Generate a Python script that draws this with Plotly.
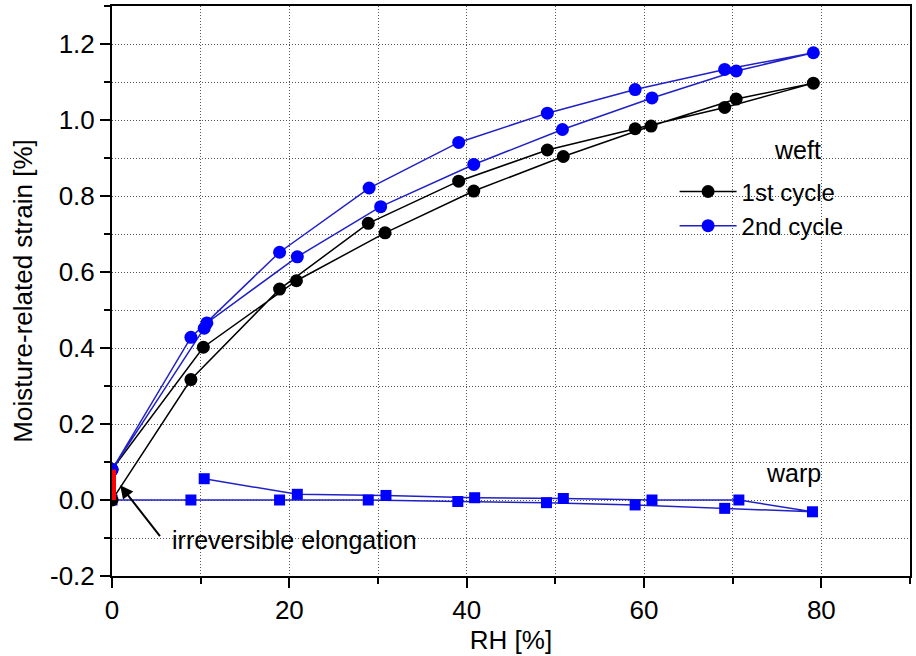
import plotly.graph_objects as go

# ---- data ----
weft1_rh = [0, 8.9, 18.9, 28.9, 39.1, 49.1, 59.0, 69.1, 79.1, 70.4, 60.8, 50.9, 40.8, 30.8, 20.8, 10.3, 0]
weft1_strain = [0, 0.317, 0.555, 0.728, 0.839, 0.921, 0.977, 1.033, 1.097, 1.055, 0.984, 0.904, 0.813, 0.703, 0.577, 0.402, 0.08]

weft2_rh = [0, 8.9, 18.9, 29.0, 39.1, 49.1, 59.0, 69.1, 79.1, 70.4, 60.9, 50.8, 40.8, 30.3, 20.9, 10.7, 10.4, 0]
weft2_strain = [0.08, 0.428, 0.652, 0.821, 0.941, 1.018, 1.080, 1.133, 1.177, 1.129, 1.058, 0.975, 0.883, 0.772, 0.640, 0.466, 0.452, 0.08]

warp_rh = [0, 8.9, 18.9, 28.9, 39.0, 49.0, 59.0, 69.1, 79.0, 70.7, 60.9, 50.9, 40.9, 30.9, 20.9, 10.4]
warp_strain = [0, 0, 0, 0, -0.004, -0.007, -0.013, -0.022, -0.031, 0.0, 0.0, 0.004, 0.006, 0.012, 0.015, 0.056]

irrev_rh = [0, 0]
irrev_strain = [0, 0.08]

x_range = [0, 90]
y_range = [-0.2, 1.3]
y_tickvals = [-0.2, 0.0, 0.2, 0.4, 0.6, 0.8, 1.0, 1.2]
y_ticktext = ["-0.2", "0.0", "0.2", "0.4", "0.6", "0.8", "1.0", "1.2"]
x_tickvals = [0, 20, 40, 60, 80]
x_ticktext = ["0", "20", "40", "60", "80"]

FONT = "Liberation Sans, Arial, sans-serif"
BLUE = "#0000ff"
BLUE_LINE = "#2020c8"
GRID = "#555555"

fig = go.Figure()

fig.add_trace(go.Scatter(
    x=warp_rh, y=warp_strain, mode="lines+markers", showlegend=False,
    line=dict(color=BLUE_LINE, width=1.5),
    marker=dict(symbol="square", size=11, color=BLUE),
))
fig.add_trace(go.Scatter(
    x=weft1_rh, y=weft1_strain, mode="lines+markers", name="1st cycle",
    line=dict(color="black", width=1.5),
    marker=dict(symbol="circle", size=13, color="black"),
))
fig.add_trace(go.Scatter(
    x=weft2_rh, y=weft2_strain, mode="lines+markers", name="2nd cycle",
    line=dict(color=BLUE_LINE, width=1.5),
    marker=dict(symbol="circle", size=13, color=BLUE),
))
fig.add_trace(go.Scatter(
    x=irrev_rh, y=irrev_strain, mode="lines", showlegend=False,
    line=dict(color="red", width=8),
))

axis_common = dict(
    showline=True, linecolor="black", linewidth=2, mirror=True,
    ticks="outside", ticklen=10, tickwidth=2, tickcolor="black",
    showgrid=True, gridcolor=GRID, gridwidth=1, griddash="1px,2px",
    zeroline=False,
    tickfont=dict(family=FONT, size=26, color="black"),
)

fig.update_xaxes(
    range=x_range, tickmode="array", tickvals=x_tickvals, ticktext=x_ticktext,
    minor=dict(dtick=10, tick0=0, ticks="outside", ticklen=6, tickwidth=2, tickcolor="black",
               showgrid=True, gridcolor=GRID, gridwidth=1, griddash="1px,2px"),
    title=dict(text="RH [%]", font=dict(family=FONT, size=26, color="black"), standoff=6),
    **axis_common,
)
fig.update_yaxes(
    range=y_range, tickmode="array", tickvals=y_tickvals, ticktext=y_ticktext,
    minor=dict(dtick=0.1, tick0=0, ticks="outside", ticklen=6, tickwidth=2, tickcolor="black",
               showgrid=True, gridcolor=GRID, gridwidth=1, griddash="1px,2px"),
    title=dict(text="Moisture-related strain [%]", font=dict(family=FONT, size=26, color="black"), standoff=10),
    **axis_common,
)

fig.add_annotation(x=77.3, y=0.92, xref="x", yref="y", text="weft", showarrow=False,
                   font=dict(family=FONT, size=25, color="black"))
fig.add_annotation(x=76.9, y=0.07, xref="x", yref="y", text="warp", showarrow=False,
                   font=dict(family=FONT, size=25, color="black"))
fig.add_annotation(x=6.5, y=-0.106, xref="x", yref="y", text="irreversible elongation",
                   showarrow=False, xanchor="left",
                   font=dict(family=FONT, size=25, color="black"))
fig.add_annotation(x=0.92, y=0.039, ax=5.54, ay=-0.099, xref="x", yref="y",
                   axref="x", ayref="y", text="", showarrow=True,
                   arrowhead=2, arrowsize=1.3, arrowwidth=2, arrowcolor="black")

fig.update_layout(
    width=916, height=656,
    margin=dict(l=112, r=4, t=5, b=80),
    paper_bgcolor="white", plot_bgcolor="white",
    font=dict(family=FONT, size=25, color="black"),
    legend=dict(x=0.705, y=0.644, xanchor="left", yanchor="middle",
                bgcolor="rgba(0,0,0,0)", font=dict(family=FONT, size=24, color="black"),
                itemwidth=57, tracegroupgap=0),
)

fig.write_html("out.html")
